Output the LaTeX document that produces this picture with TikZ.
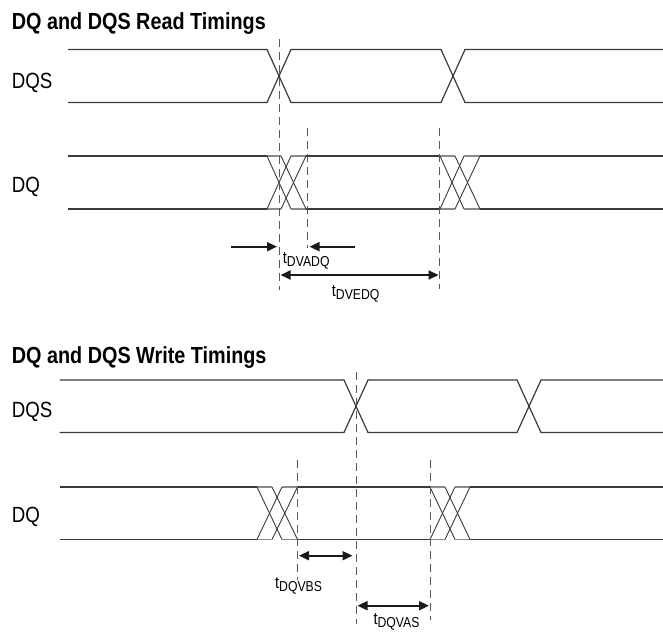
\documentclass[tikz,border=0pt]{standalone}
\usepackage{fontspec}
\usepackage{graphicx}
\setmainfont{Liberation Sans}
\usetikzlibrary{arrows.meta}
\definecolor{sigc}{HTML}{3A3A3A}
\definecolor{lightc}{HTML}{8A8A8A}
\definecolor{dashc}{HTML}{5A5A5A}
\definecolor{arrc}{HTML}{1A1A1A}
\newcommand{\cnd}[1]{\scalebox{0.85}[1]{#1}}
\newcommand{\ttl}[1]{{\fontsize{23.3}{23.3}\selectfont\bfseries\cnd{#1}}}
\newcommand{\sgl}[1]{{\fontsize{22}{22}\selectfont\cnd{#1}}}
\newcommand{\tsub}[1]{{\fontsize{17}{17}\selectfont\cnd{t}}\raisebox{-3pt}{\fontsize{14.4}{14.4}\selectfont\cnd{#1}}}
\begin{document}
\begin{tikzpicture}[x=1pt,y=-1pt,
  sig/.style={draw=sigc, line width=1.2pt},
  xl/.style={draw=sigc, line width=0.9pt},
  lt/.style={draw=lightc, line width=1.2pt},
  dsh/.style={draw=dashc, line width=0.9pt, dash pattern=on 8pt off 5pt},
  arr/.style={draw=arrc, line width=1.8pt, -{Triangle[length=10pt,width=9pt]}},
  darr/.style={draw=arrc, line width=1.8pt, {Triangle[length=10pt,width=9pt]}-{Triangle[length=10pt,width=9pt]}},
  lbl/.style={anchor=base west, inner sep=0pt, text=black}]
\useasboundingbox (0,0) rectangle (663,631);

% ---------------- Read ----------------
\node[lbl] (titleR) at (11.7,29.3) {\ttl{DQ and DQS Read Timings}};
\node[lbl] (dqsR) at (11.7,88.3) {\sgl{DQS}};
\node[lbl] (dqR) at (11.7,192.7) {\sgl{DQ}};

% DQS read
\draw[sig] (68,49.5) -- (267,49.5) -- (291,102.5) -- (441,102.5) -- (465,49.5) -- (663,49.5);
\draw[sig] (68,102.5) -- (267,102.5) -- (291,49.5) -- (441,49.5) -- (465,102.5) -- (663,102.5);

% DQ read
\foreach \yy in {156,209} {
  \draw[sig] (68,\yy) -- (267,\yy);
  \draw[lt] (267,\yy) -- (281,\yy);
  \draw[lt] (291,\yy) -- (306,\yy);
  \draw[sig] (306,\yy) -- (440,\yy);
  \draw[lt] (440,\yy) -- (455,\yy);
  \draw[lt] (464,\yy) -- (480,\yy);
  \draw[sig] (480,\yy) -- (663,\yy);
}
\foreach \xa/\xb in {267/291, 281/306, 440/464, 455/480} {
  \draw[xl] (\xa,156) -- (\xb,209);
  \draw[xl] (\xa,209) -- (\xb,156);
}

% dashed read
\coordinate (dRa1) at (279,39);   \coordinate (dRa2) at (279,290);
\coordinate (dRb1) at (307,128);  \coordinate (dRb2) at (307,248);
\coordinate (dRc1) at (439.5,128);\coordinate (dRc2) at (439.5,289);
\draw[dsh] (dRa1) -- (dRa2);
\draw[dsh] (dRb1) -- (dRb2);
\draw[dsh] (dRc1) -- (dRc2);

% arrows read
\coordinate (aL1) at (231,246.7);  \coordinate (aL2) at (277,246.7);
\coordinate (aR1) at (355,246.7);  \coordinate (aR2) at (309.5,246.7);
\coordinate (aE1) at (280.5,275);  \coordinate (aE2) at (438.5,275);
\draw[arr] (aL1) -- (aL2);
\draw[arr] (aR1) -- (aR2);
\draw[darr] (aE1) -- (aE2);
\node[lbl] (lDVADQ) at (282.7,263.5) {\tsub{DVADQ}};
\node[lbl] (lDVEDQ) at (331.7,296.5) {\tsub{DVEDQ}};

% ---------------- Write ----------------
\node[lbl] (titleW) at (11.7,363.3) {\ttl{DQ and DQS Write Timings}};
\node[lbl] (dqsW) at (11.7,417) {\sgl{DQS}};
\node[lbl] (dqW) at (11.7,522.7) {\sgl{DQ}};

% DQS write
\draw[sig] (59.5,380) -- (344,380) -- (368,432.5) -- (517,432.5) -- (541,380) -- (663,380);
\draw[sig] (59.5,432.5) -- (344,432.5) -- (368,380) -- (517,380) -- (541,432.5) -- (663,432.5);

% DQ write
\foreach \yy in {487,539.5} {
  \draw[sig] (59.5,\yy) -- (257,\yy);
  \draw[lt] (257,\yy) -- (272,\yy);
  \draw[lt] (282,\yy) -- (297.5,\yy);
  \draw[sig] (297.5,\yy) -- (430,\yy);
  \draw[lt] (430,\yy) -- (445,\yy);
  \draw[lt] (455,\yy) -- (470,\yy);
  \draw[sig] (470,\yy) -- (663,\yy);
}
\foreach \xa/\xb in {257/282, 272/297.5, 430/455, 445/470} {
  \draw[xl] (\xa,487) -- (\xb,539.5);
  \draw[xl] (\xa,539.5) -- (\xb,487);
}

% dashed write
\coordinate (dWa1) at (356,372);   \coordinate (dWa2) at (356,624);
\coordinate (dWb1) at (297.7,460); \coordinate (dWb2) at (297.7,580);
\coordinate (dWc1) at (430,460);   \coordinate (dWc2) at (430,620);
\draw[dsh] (dWa1) -- (dWa2);
\draw[dsh] (dWb1) -- (dWb2);
\draw[dsh] (dWc1) -- (dWc2);

% arrows write
\coordinate (aB1) at (299,555.7);  \coordinate (aB2) at (352.5,555.7);
\coordinate (aA1) at (357.5,605.7);\coordinate (aA2) at (429,605.7);
\draw[darr] (aB1) -- (aB2);
\draw[darr] (aA1) -- (aA2);
\node[lbl] (lDQVBS) at (275,588.5) {\tsub{DQVBS}};
\node[lbl] (lDQVAS) at (373.3,624) {\tsub{DQVAS}};
\end{tikzpicture}
\end{document}
